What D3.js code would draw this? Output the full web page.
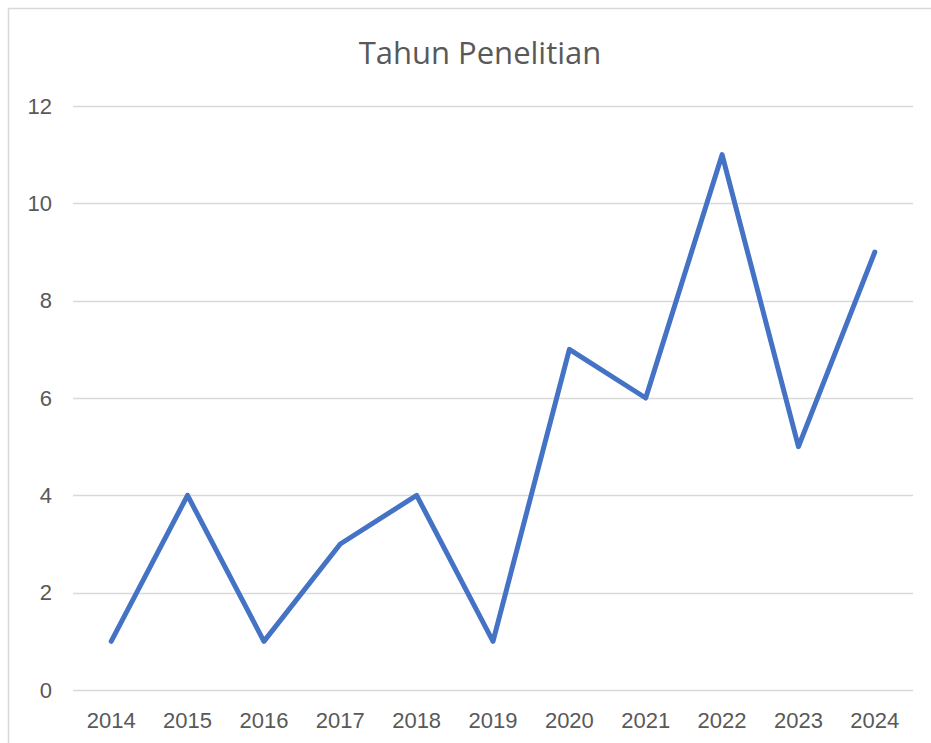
<!DOCTYPE html>
<html>
<head>
<meta charset="utf-8">
<script src="https://cdn.jsdelivr.net/npm/d3@7"></script>
<style>
  body { margin: 0; background: #fff; }
  svg { display: block; font-family: "Open Sans", sans-serif; }
</style>
</head>
<body>
<div class="chart"></div>
<script>
// data
const years = ['2014', '2015', '2016', '2017', '2018', '2019', '2020', '2021', '2022', '2023', '2024']
const counts = [1, 4, 1, 3, 4, 1, 7, 6, 11, 5, 9]
const yTicks = [0, 2, 4, 6, 8, 10, 12]
const title = 'Tahun Penelitian'

const width = 931, height = 743
const margin = {top: 106, right: 18, bottom: 53, left: 73}

const svg = d3.select('.chart')
  .append('svg')
    .attr('width', width)
    .attr('height', height)

// chart frame
svg.append('rect')
  .attr('x', 8.5).attr('y', 8.5)
  .attr('width', width + 10).attr('height', height + 10)
  .attr('fill', 'none')
  .attr('stroke', '#d9d9d9')
  .attr('stroke-width', 1.5)

const x = d3.scaleBand()
  .domain(years)
  .range([margin.left, width - margin.right])

const y = d3.scaleLinear()
  .domain([0, 12])
  .range([height - margin.bottom, margin.top])

// gridlines
svg.append('g')
  .selectAll('line')
  .data(yTicks)
  .enter()
  .append('line')
    .attr('x1', margin.left)
    .attr('x2', width - margin.right)
    .attr('y1', (d) => Math.round(y(d)) + 0.5)
    .attr('y2', (d) => Math.round(y(d)) + 0.5)
    .style('stroke', '#d9d9d9')
    .style('stroke-width', 1.5)

const yAxis = svg.append('g')
  .attr('transform', 'translate(' + (margin.left - 21) + ',0)')
  .call(d3.axisLeft(y).tickValues(yTicks).tickSize(0).tickPadding(0))
yAxis.select('.domain').remove()
yAxis.selectAll('text')
  .attr('fill', '#595959')
  .style('font-size', '22px')

const xAxis = svg.append('g')
  .attr('transform', 'translate(0,' + (height - margin.bottom) + ')')
  .call(d3.axisBottom(x).tickSize(0).tickPadding(22))
xAxis.select('.domain').remove()
xAxis.selectAll('text')
  .attr('fill', '#595959')
  .style('font-size', '22px')

const line = d3.line()
  .x((d, i) => x(years[i]) + x.bandwidth() / 2)
  .y((d) => y(d))

svg.append('path')
  .datum(counts)
  .attr('d', line)
  .attr('fill', 'none')
  .attr('stroke', '#4472c4')
  .attr('stroke-width', 5)
  .attr('stroke-linejoin', 'round')
  .attr('stroke-linecap', 'round')

svg.append('text')
  .attr('x', 480)
  .attr('y', 64)
  .attr('text-anchor', 'middle')
  .attr('fill', '#595959')
  .style('font-size', '31px')
  .text(title)
</script>
</body>
</html>
